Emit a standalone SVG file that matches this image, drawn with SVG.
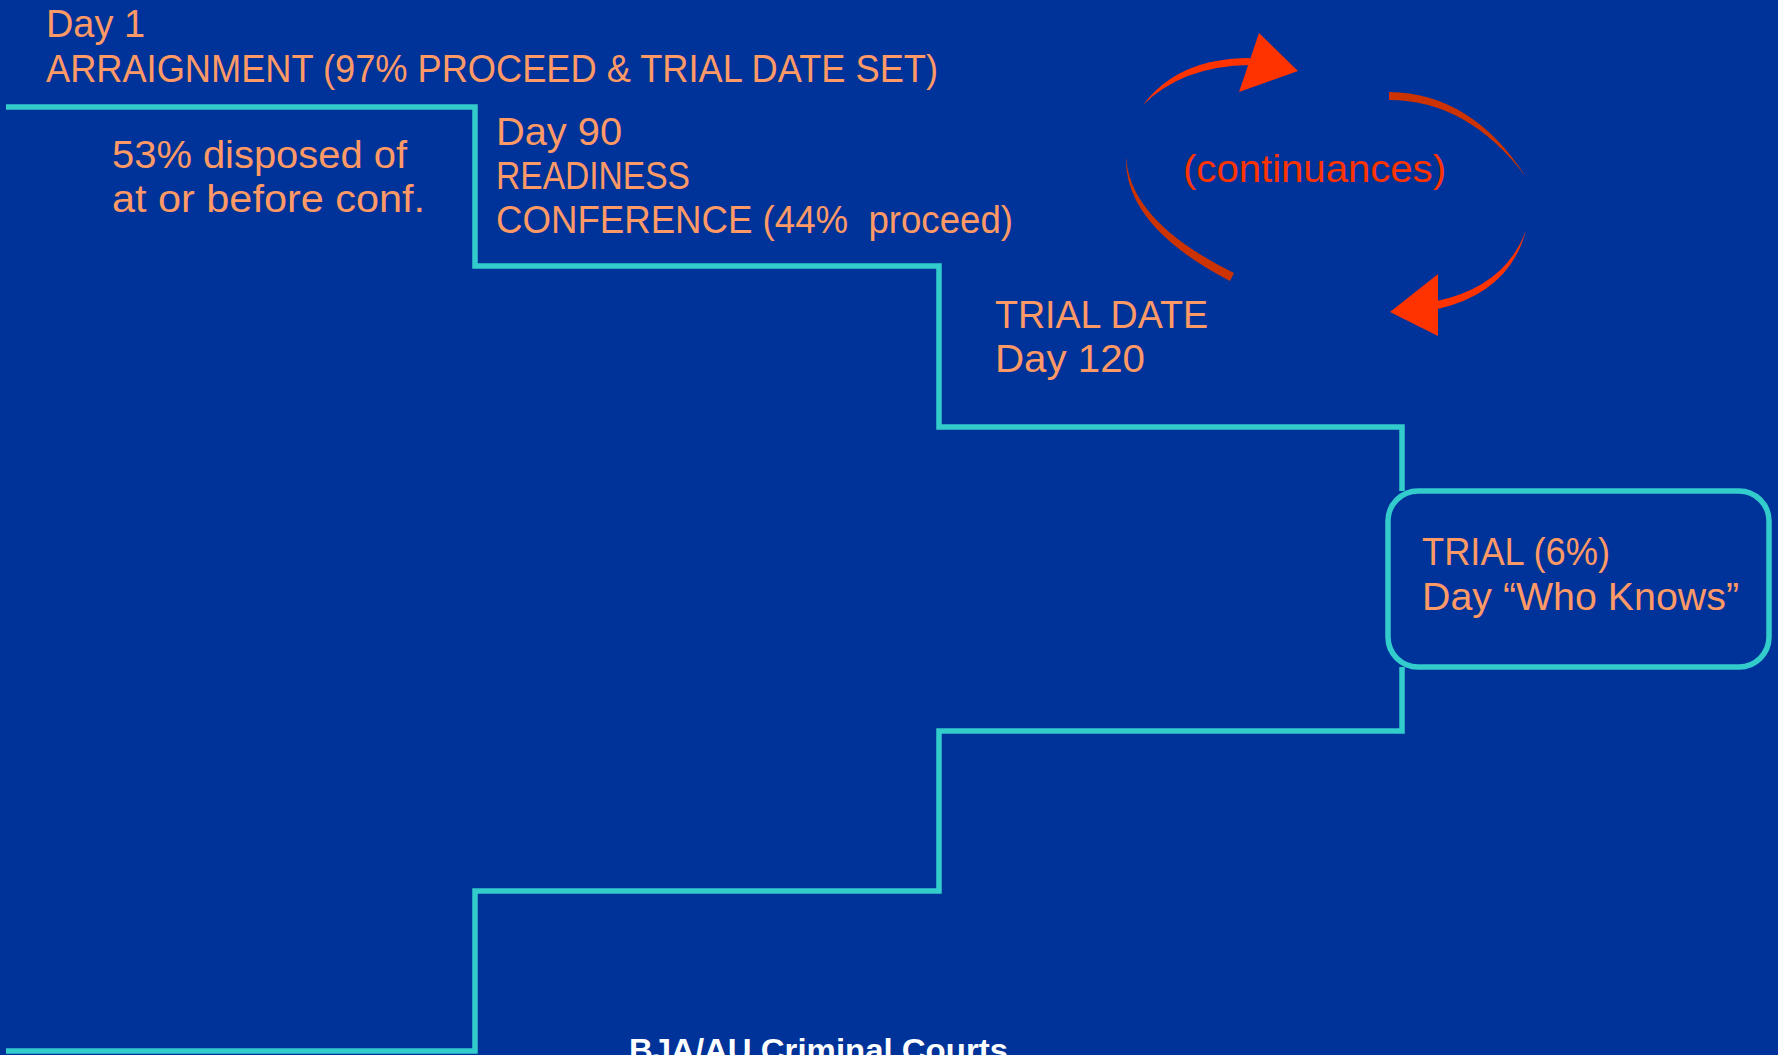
<svg xmlns="http://www.w3.org/2000/svg" width="1778" height="1055" viewBox="0 0 1778 1055">
<style>
.bg{fill:#003399}
.stair{fill:none;stroke:#33CCCC;stroke-width:5.5;stroke-linejoin:miter}
.lbl{font-family:"Liberation Sans",Arial,sans-serif;font-size:38px;fill:#FF9966;white-space:pre}
.cont{font-family:"Liberation Sans",Arial,sans-serif;font-size:39px;fill:#FF3300}
.foot{font-family:"Liberation Sans",Arial,sans-serif;font-size:32px;font-weight:bold;fill:#FFFFFF}
.red{fill:#FF3300}
.dark{fill:#CC3300}
</style>
<rect class="bg" x="0" y="0" width="1778" height="1055"/>
<g id="connectors">
  <path class="stair" d="M6,107 H475 V266 H939 V427 H1402 V491"/>
  <path class="stair" d="M1402,667 V731 H939 V891 H475 V1051 H6"/>
</g>
<g id="arraignment">
  <text class="lbl" x="46" y="37" textLength="99" lengthAdjust="spacingAndGlyphs">Day 1</text>
  <text class="lbl" x="46" y="82" textLength="892" lengthAdjust="spacingAndGlyphs">ARRAIGNMENT (97% PROCEED &amp; TRIAL DATE SET)</text>
</g>
<g id="disposed">
  <text class="lbl" x="112" y="168" textLength="295" lengthAdjust="spacingAndGlyphs">53% disposed of</text>
  <text class="lbl" x="112" y="212" textLength="313" lengthAdjust="spacingAndGlyphs">at or before conf.</text>
</g>
<g id="readiness">
  <text class="lbl" x="496" y="145" textLength="126" lengthAdjust="spacingAndGlyphs">Day 90</text>
  <text class="lbl" x="496" y="189" textLength="194" lengthAdjust="spacingAndGlyphs">READINESS</text>
  <text class="lbl" x="496" y="233" textLength="517" lengthAdjust="spacingAndGlyphs">CONFERENCE (44%  proceed)</text>
</g>
<g id="trial-date">
  <text class="lbl" x="995" y="328" textLength="213" lengthAdjust="spacingAndGlyphs">TRIAL DATE</text>
  <text class="lbl" x="995" y="372" textLength="150" lengthAdjust="spacingAndGlyphs">Day 120</text>
</g>
<g id="trial">
  <rect class="stair" x="1388" y="491" width="381" height="176" rx="30" ry="30"/>
  <text class="lbl" x="1422" y="565" textLength="188" lengthAdjust="spacingAndGlyphs">TRIAL (6%)</text>
  <text class="lbl" x="1422" y="610" textLength="317" lengthAdjust="spacingAndGlyphs">Day “Who Knows”</text>
</g>
<g id="continuances">
  <path class="red" d="M1143,105 Q1178,58 1250,58 L1250,65 Q1182,66 1143,105 Z"/>
  <polygon class="red" points="1259,33 1298,71 1239,92"/>
  <path class="dark" d="M1389,92 Q1472,93 1526,177 Q1468,100 1389,100 Z"/>
  <path class="dark" d="M1126,157 Q1124,226 1230,281 L1234,273 Q1130,222 1126,157 Z"/>
  <path class="red" d="M1526,230 Q1510,292 1438,309 L1437,301 Q1506,286 1526,230 Z"/>
  <polygon class="red" points="1438,274 1390,312 1438,336"/>
  <text class="cont" x="1183" y="182" textLength="263" lengthAdjust="spacingAndGlyphs">(continuances)</text>
</g>
<g id="footer">
  <text class="foot" x="629" y="1061" textLength="379" lengthAdjust="spacingAndGlyphs">BJA/AU Criminal Courts</text>
</g>
</svg>
